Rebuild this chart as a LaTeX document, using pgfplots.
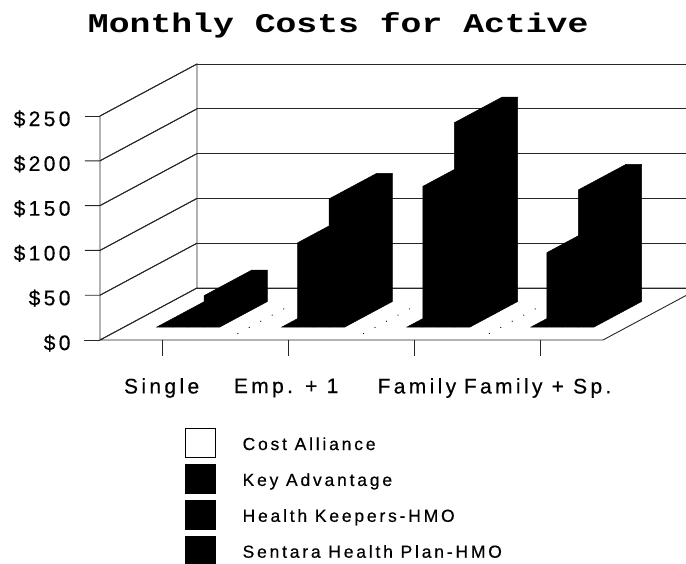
\documentclass[border=0pt]{standalone}
\usepackage{fontspec}
\usepackage{pgfplots}
\pgfplotsset{compat=1.18}
\setmainfont[LetterSpace=16,FakeBold=0.5]{Liberation Sans}
\newfontfamily\titlefont[FakeStretch=1.287]{Liberation Mono Bold}
\definecolor{lin}{gray}{0.15}
% one column: x from, x to, height in dollars, all seen from front left
\newcommand\column[3]{\addplot3[fill=black,draw=black,line width=0.5pt,forget plot] coordinates {(#1,0.25,0) (#1,0.25,#3) (#1,0.74,#3) (#2,0.74,#3) (#2,0.74,0) (#2,0.25,0)} --cycle;}
\newcommand\wire[1]{\addplot3[lin,line width=0.9pt,forget plot] coordinates {#1};}
\begin{document}
\begin{tikzpicture}
\path[use as bounding box,clip] (0pt,0pt) rectangle (686pt,-564pt);
\begin{axis}[
    at={(100pt,-340pt)}, anchor=origin,
    x={(125.75pt,0pt)}, y={(97pt,52pt)}, z={(0pt,0.896pt)},
    xmin=0, xmax=4, ymin=0, ymax=1, zmin=0, zmax=250,
    clip=false,
    axis line style={draw=none},
    major tick length=0pt,
    xtick={0.49,1.48,2.52,3.48},
    xticklabels={Single,Emp. + 1,Family,Family + Sp.},
    ytick=\empty,
    ztick={0,50,100,150,200,250},
    zticklabels={\$0,\$50,\$100,\$150,\$200,\$250},
    xticklabel style={font=\fontsize{21}{21}\selectfont,anchor=center,yshift=-48pt},
    zticklabel style={font=\fontsize{21}{21}\selectfont,anchor=east,xshift=-26pt,yshift=-3pt},
    zmajorgrids=true,
    z grid style={lin,line width=0.9pt},
    title={\titlefont\fontsize{27}{27}\selectfont Monthly Costs for Active},
    title style={at={(axis description cs:0.397,1.12)},anchor=center},
    legend style={draw=none,fill=none,at={(axis description cs:0.1417,-0.319)},anchor=north west,
        font=\fontsize{17.5}{17.5}\selectfont,row sep=6.5pt,inner sep=0pt,/tikz/column 1/.style={column sep=25pt}},
    legend cell align=left,
    legend image code/.code={\draw[#1] (0pt,-13pt) rectangle (30pt,16pt);},
]
\addlegendimage{draw=black,fill=white}
\addlegendentry{Cost Alliance}
\addlegendimage{draw=black,fill=black}
\addlegendentry{Key Advantage}
\addlegendimage{draw=black,fill=black}
\addlegendentry{Health Keepers-HMO}
\addlegendimage{draw=black,fill=black}
\addlegendentry{Sentara Health Plan-HMO}

% walls and floor
\wire{(0,0,0) (0,0,250) (0,1,250) (0,1,0) (0,0,0) (4,0,0) (4,1,0) (0,1,0)}
\wire{(0,1,250) (4,1,250)}
\wire{(-0.13,0,0) (0,0,0)}
% left and bottom tick marks
\wire{(-0.12,0,50) (0,0,50) (0,1,50)}
\wire{(-0.12,0,100) (0,0,100) (0,1,100)}
\wire{(-0.12,0,150) (0,0,150) (0,1,150)}
\wire{(-0.12,0,200) (0,0,200) (0,1,200)}
\wire{(-0.12,0,250) (0,0,250)}
\wire{(0.5,0,0) (0.5,0,-18)}
\wire{(1.5,0,0) (1.5,0,-18)}
\wire{(2.5,0,0) (2.5,0,-18)}
\wire{(3.5,0,0) (3.5,0,-18)}
% dotted floor lines between groups
\addplot3[black,line width=0.8pt,dash pattern=on 1pt off 12pt,forget plot] coordinates {(1,0.12,0) (1,0.7,0)};
\addplot3[black,line width=0.8pt,dash pattern=on 1pt off 12pt,forget plot] coordinates {(2,0.12,0) (2,0.7,0)};
\addplot3[black,line width=0.8pt,dash pattern=on 1pt off 12pt,forget plot] coordinates {(3,0.12,0) (3,0.7,0)};

% Single
\column{0.26}{0.385}{0}
\column{0.385}{0.51}{8}
\column{0.51}{0.635}{8}
\column{0.635}{0.76}{35}
% Emp. + 1
\column{1.254}{1.379}{0}
\column{1.379}{1.504}{94}
\column{1.504}{1.629}{94}
\column{1.629}{1.754}{143}
% Family
\column{2.25}{2.375}{0}
\column{2.375}{2.5}{157}
\column{2.5}{2.625}{157}
\column{2.625}{2.75}{228}
% Family + Sp.
\column{3.236}{3.361}{0}
\column{3.361}{3.486}{83}
\column{3.486}{3.611}{83}
\column{3.611}{3.736}{153}
\end{axis}
\end{tikzpicture}
\end{document}
